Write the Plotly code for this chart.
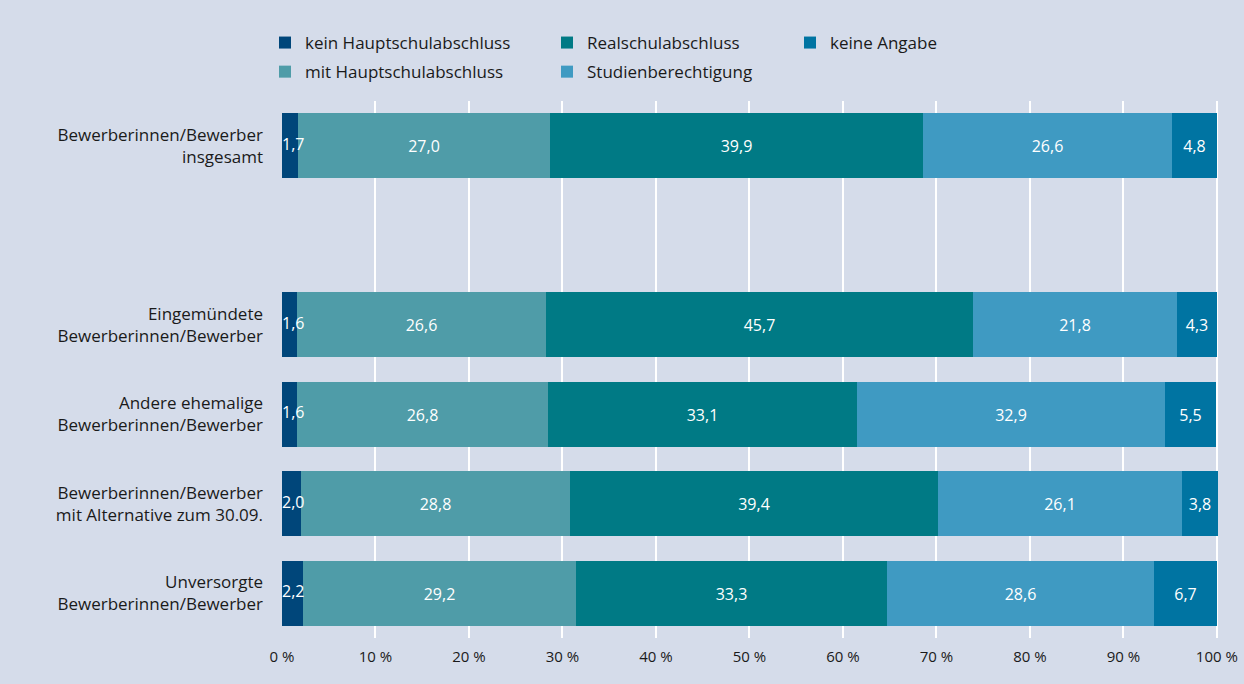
import plotly.graph_objects as go

categories = [
    "Bewerberinnen/Bewerber<br>insgesamt",
    "Eingemündete<br>Bewerberinnen/Bewerber",
    "Andere ehemalige<br>Bewerberinnen/Bewerber",
    "Bewerberinnen/Bewerber<br>mit Alternative zum 30.09.",
    "Unversorgte<br>Bewerberinnen/Bewerber",
]
# slot index of each category (slot 1 left empty as a gap)
slots = [0, 2, 3, 4, 5]

series_names = [
    "kein Hauptschulabschluss",
    "mit Hauptschulabschluss",
    "Realschulabschluss",
    "Studienberechtigung",
    "keine Angabe",
]
kein_hs = [1.7, 1.6, 1.6, 2.0, 2.2]
mit_hs = [27.0, 26.6, 26.8, 28.8, 29.2]
realschul = [39.9, 45.7, 33.1, 39.4, 33.3]
studien = [26.6, 21.8, 32.9, 26.1, 28.6]
keine_angabe = [4.8, 4.3, 5.5, 3.8, 6.7]

x_ticks = [0, 10, 20, 30, 40, 50, 60, 70, 80, 90, 100]
x_ticklabels = [f"{v} %" for v in x_ticks]

colors = ["#00467A", "#4F9CA8", "#007A85", "#3F9AC2", "#0074A2"]
legend_ids = ["legend", "legend", "legend2", "legend2", "legend3"]
values = [kein_hs, mit_hs, realschul, studien, keine_angabe]

font_family = "Open Sans, Noto Sans, sans-serif"
BAR_FONT = 16


def fmt(v):
    return f"{v:.1f}".replace(".", ",")


fig = go.Figure()
for i, (name, vals, col, lg) in enumerate(zip(series_names, values, colors, legend_ids)):
    fig.add_trace(go.Bar(
        name=name,
        y=slots,
        x=vals,
        orientation="h",
        marker=dict(color=col, line=dict(width=0)),
        width=0.73,
        text=[fmt(v) for v in vals],
        textposition="none" if i == 0 else "inside",
        insidetextanchor="middle",
        textangle=0,
        constraintext="none",
        textfont=dict(color="white", size=BAR_FONT, family=font_family),
        legend=lg,
        legendgroup=name,
        hoverinfo="skip",
    ))

# labels of the narrow first segment, starting at the bar base
fig.add_trace(go.Scatter(
    x=[0] * len(slots),
    y=slots,
    mode="text",
    text=[fmt(v) for v in kein_hs],
    textposition="middle right",
    textfont=dict(color="white", size=BAR_FONT, family=font_family),
    showlegend=False,
    hoverinfo="skip",
    cliponaxis=False,
))

legend_common = dict(
    orientation="v",
    yanchor="top",
    xanchor="left",
    bgcolor="rgba(0,0,0,0)",
    font=dict(size=17, family=font_family, color="#1a1a1a"),
    itemwidth=30,
    tracegroupgap=4,
    traceorder="grouped",
)

W, H = 1244, 684
ML, MR, MT, MB = 282, 26, 101, 46
pw, ph = W - ML - MR, H - MT - MB


def px_x(x):
    return (x - ML) / pw


def px_y(y):
    return (H - MB - y) / ph


fig.update_layout(
    barmode="stack",
    width=W,
    height=H,
    paper_bgcolor="#D5DCEA",
    plot_bgcolor="#D5DCEA",
    margin=dict(l=ML, r=MR, t=MT, b=MB, autoexpand=False),
    font=dict(family=font_family, color="#1a1a1a"),
    bargap=0,
    legend=dict(x=px_x(265), y=px_y(25), **legend_common),
    legend2=dict(x=px_x(547), y=px_y(25), **legend_common),
    legend3=dict(x=px_x(790), y=px_y(25), **legend_common),
    xaxis=dict(
        range=[0, 100.12],
        tickvals=x_ticks,
        ticktext=x_ticklabels,
        showgrid=True,
        gridcolor="white",
        gridwidth=2,
        zeroline=False,
        showline=False,
        ticks="",
        automargin=False,
        ticklabelstandoff=8,
        tickfont=dict(size=15, family=font_family, color="#1a1a1a"),
    ),
    yaxis=dict(
        range=[5.5, -0.5],
        tickvals=slots,
        ticktext=categories,
        showgrid=False,
        zeroline=False,
        ticks="",
        automargin=False,
        ticklabelstandoff=18,
        tickfont=dict(size=17, family=font_family, color="#1a1a1a"),
    ),
)

fig.write_html(
    "out.html",
    config={"displayModeBar": False},
    post_script="document.body.style.margin='0';",
)
